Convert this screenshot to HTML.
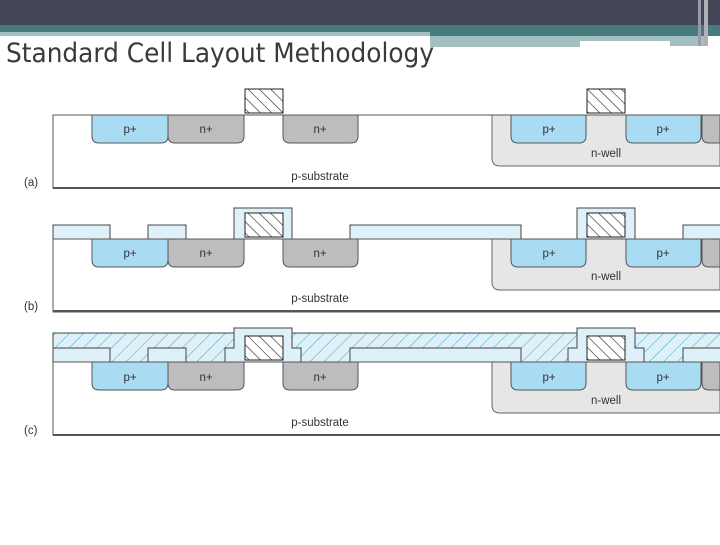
<!DOCTYPE html>
<html><head><meta charset="utf-8"><style>
body{margin:0;width:720px;height:540px;overflow:hidden;background:#fff;font-family:"Liberation Sans",sans-serif}
</style></head><body>
<svg width="720" height="540" xmlns="http://www.w3.org/2000/svg" font-family="Liberation Sans, sans-serif">
<defs>
<pattern id="poly" patternUnits="userSpaceOnUse" width="8" height="8" patternTransform="rotate(-45)">
<rect width="8" height="8" fill="#fff"/><line x1="0" y1="0" x2="0" y2="8" stroke="#222" stroke-width="1.2"/></pattern>
<pattern id="ox" patternUnits="userSpaceOnUse" width="10" height="10" patternTransform="rotate(45)">
<rect width="10" height="10" fill="#dff1f8"/><line x1="0" y1="0" x2="0" y2="10" stroke="#3aa6c6" stroke-width="1"/></pattern>
</defs>
<rect x="0" y="0" width="720" height="25" fill="#434456"/>
<rect x="0" y="25" width="720" height="11" fill="#467c80"/>
<rect x="0" y="32" width="430" height="4" fill="#a3bfc2"/>
<rect x="430" y="36" width="240" height="5" fill="#a3bfc2"/>
<rect x="430" y="41" width="150" height="6" fill="#a3bfc2"/>
<rect x="670" y="36" width="35" height="10" fill="#a3bfc2"/>
<rect x="698" y="0" width="3" height="46" fill="#9a9aa6"/>
<rect x="704" y="0" width="4" height="46" fill="#b0b0b8"/>
<rect x="0" y="36" width="430" height="34" fill="#fff"/>
<text x="6" y="62" font-size="27" fill="#3a3a3a" textLength="428" lengthAdjust="spacingAndGlyphs" font-family="DejaVu Sans Condensed, Liberation Sans, sans-serif">Standard Cell Layout Methodology</text>

<g font-size="11.5" fill="#333">
<g transform="translate(0,0)">
<rect x="53" y="115" width="680" height="73" fill="#fff" stroke="#555" stroke-width="1"/>
<line x1="53" y1="188" x2="720" y2="188" stroke="#555" stroke-width="2"/>
<path d="M492 115 V158 Q492 166 500 166 H720 V115Z" fill="#e6e6e6" stroke="#666"/>
<path d="M92 115 V136 Q92 143 99 143 H161 Q168 143 168 136 V115Z" fill="#a9dcf3" stroke="#555"/>
<path d="M168 115 V136 Q168 143 175 143 H237 Q244 143 244 136 V115Z" fill="#bdbdc0" stroke="#555"/>
<path d="M283 115 V136 Q283 143 290 143 H351 Q358 143 358 136 V115Z" fill="#bdbdc0" stroke="#555"/>
<path d="M511 115 V136 Q511 143 518 143 H579 Q586 143 586 136 V115Z" fill="#a9dcf3" stroke="#555"/>
<path d="M626 115 V136 Q626 143 633 143 H694 Q701 143 701 136 V115Z" fill="#a9dcf3" stroke="#555"/>
<path d="M702 115 V136 Q702 143 709 143 H720 V115Z" fill="#bdbdc0" stroke="#555"/>
<line x1="53" y1="115" x2="720" y2="115" stroke="#555"/>
<rect x="245" y="89" width="38" height="24" fill="url(#poly)" stroke="#222"/>
<rect x="587" y="89" width="38" height="24" fill="url(#poly)" stroke="#222"/>
<text x="130" y="133" text-anchor="middle">p+</text><text x="206" y="133" text-anchor="middle">n+</text>
<text x="320" y="133" text-anchor="middle">n+</text><text x="549" y="133" text-anchor="middle">p+</text>
<text x="663" y="133" text-anchor="middle">p+</text><text x="606" y="157" text-anchor="middle">n-well</text>
<text x="320" y="180" text-anchor="middle">p-substrate</text><text x="24" y="186">(a)</text>
</g>
<g transform="translate(0,124)">
<rect x="53" y="115" width="680" height="73" fill="#fff" stroke="#555" stroke-width="1"/>
<line x1="53" y1="187" x2="720" y2="187" stroke="#555" stroke-width="2"/>
<path d="M492 115 V158 Q492 166 500 166 H720 V115Z" fill="#e6e6e6" stroke="#666"/>
<path d="M92 115 V136 Q92 143 99 143 H161 Q168 143 168 136 V115Z" fill="#a9dcf3" stroke="#555"/>
<path d="M168 115 V136 Q168 143 175 143 H237 Q244 143 244 136 V115Z" fill="#bdbdc0" stroke="#555"/>
<path d="M283 115 V136 Q283 143 290 143 H351 Q358 143 358 136 V115Z" fill="#bdbdc0" stroke="#555"/>
<path d="M511 115 V136 Q511 143 518 143 H579 Q586 143 586 136 V115Z" fill="#a9dcf3" stroke="#555"/>
<path d="M626 115 V136 Q626 143 633 143 H694 Q701 143 701 136 V115Z" fill="#a9dcf3" stroke="#555"/>
<path d="M702 115 V136 Q702 143 709 143 H720 V115Z" fill="#bdbdc0" stroke="#555"/>
<g fill="#dff1f8" stroke="#444">
<rect x="53" y="101" width="57" height="14"/><rect x="148" y="101" width="38" height="14"/>
<rect x="350" y="101" width="171" height="14"/><rect x="683" y="101" width="40" height="14"/>
<rect x="234" y="84" width="58" height="31"/><rect x="577" y="84" width="58" height="31"/></g>
<line x1="53" y1="115" x2="720" y2="115" stroke="#555"/>
<rect x="245" y="89" width="38" height="24" fill="url(#poly)" stroke="#222"/>
<rect x="587" y="89" width="38" height="24" fill="url(#poly)" stroke="#222"/>
<text x="130" y="133" text-anchor="middle">p+</text><text x="206" y="133" text-anchor="middle">n+</text>
<text x="320" y="133" text-anchor="middle">n+</text><text x="549" y="133" text-anchor="middle">p+</text>
<text x="663" y="133" text-anchor="middle">p+</text><text x="606" y="156" text-anchor="middle">n-well</text>
<text x="320" y="178" text-anchor="middle">p-substrate</text><text x="24" y="186">(b)</text>
</g>
<g transform="translate(0,247)">
<rect x="53" y="115" width="680" height="73" fill="#fff" stroke="#555" stroke-width="1"/>
<line x1="53" y1="188" x2="720" y2="188" stroke="#555" stroke-width="2"/>
<path d="M492 115 V158 Q492 166 500 166 H720 V115Z" fill="#e6e6e6" stroke="#666"/>
<path d="M92 115 V136 Q92 143 99 143 H161 Q168 143 168 136 V115Z" fill="#a9dcf3" stroke="#555"/>
<path d="M168 115 V136 Q168 143 175 143 H237 Q244 143 244 136 V115Z" fill="#bdbdc0" stroke="#555"/>
<path d="M283 115 V136 Q283 143 290 143 H351 Q358 143 358 136 V115Z" fill="#bdbdc0" stroke="#555"/>
<path d="M511 115 V136 Q511 143 518 143 H579 Q586 143 586 136 V115Z" fill="#a9dcf3" stroke="#555"/>
<path d="M626 115 V136 Q626 143 633 143 H694 Q701 143 701 136 V115Z" fill="#a9dcf3" stroke="#555"/>
<path d="M702 115 V136 Q702 143 709 143 H720 V115Z" fill="#bdbdc0" stroke="#555"/>
<rect x="53" y="86" width="670" height="29" fill="url(#ox)" stroke="#444"/>
<g fill="#dff1f8" stroke="#444">
<rect x="53" y="101" width="57" height="14"/><rect x="148" y="101" width="38" height="14"/>
<rect x="350" y="101" width="171" height="14"/><rect x="683" y="101" width="40" height="14"/>
<path d="M234 81 H292 V101 H301 V115 H225 V101 H234Z"/>
<path d="M577 81 H635 V101 H644 V115 H568 V101 H577Z"/></g>
<line x1="53" y1="115" x2="720" y2="115" stroke="#555"/>
<rect x="245" y="89" width="38" height="24" fill="url(#poly)" stroke="#222"/>
<rect x="587" y="89" width="38" height="24" fill="url(#poly)" stroke="#222"/>
<text x="130" y="134" text-anchor="middle">p+</text><text x="206" y="134" text-anchor="middle">n+</text>
<text x="320" y="134" text-anchor="middle">n+</text><text x="549" y="134" text-anchor="middle">p+</text>
<text x="663" y="134" text-anchor="middle">p+</text><text x="606" y="157" text-anchor="middle">n-well</text>
<text x="320" y="179" text-anchor="middle">p-substrate</text><text x="24" y="187">(c)</text>
</g>
</g>
</svg>
</body></html>
